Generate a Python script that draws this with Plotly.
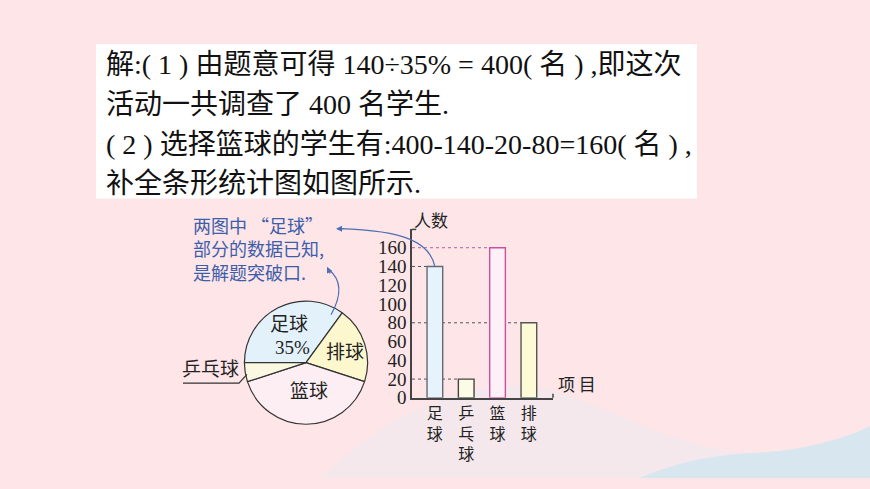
import plotly.graph_objects as go

# 页面尺寸（像素）
W, H = 870, 489

# 扇形统计图数据（顺时针，从9点钟方向开始）
pie_labels = ['足球', '排球', '篮球', '乒乓球']
pie_values = [140, 80, 160, 20]
pie_colors = ['#e3f1fb', '#fcf7cd', '#fdeef3', '#fbf8e2']

# 条形统计图数据
bar_cats = ['足球', '乒乓球', '篮球', '排球']
bar_values = [140, 20, 160, 80]
bar_ticktext = ['足<br>球', '乒<br>乓<br>球', '篮<br>球', '排<br>球']
bar_fill = ['#e6f3fc', '#fbfbe6', '#fdf0f7', '#fdfbd6']
bar_line = ['#666a70', '#444444', '#cc4fa0', '#555555']
y_ticks = [0, 20, 40, 60, 80, 100, 120, 140, 160]

# 解答文字
solution_lines = [
    '解:( 1 ) 由题意可得 140÷35% = 400( 名 ) ,即这次',
    '活动一共调查了 400 名学生.',
    '( 2 ) 选择篮球的学生有:400-140-20-80=160( 名 ) ,',
    '补全条形统计图如图所示.',
]
note_lines = ['两图中 “足球”', '部分的数据已知,', '是解题突破口.']

CJK = 'Noto Sans CJK SC'
SERIF = 'Liberation Serif, Noto Sans CJK SC'


def px(x):
    return x / W


def py(y):
    return 1 - y / H


def path(points):
    # points: 像素坐标 -> paper 坐标
    return ' '.join(f'{c} {px(x):.4f},{py(y):.4f}' for c, x, y in points)


fig = go.Figure()

fig.add_trace(go.Pie(
    labels=pie_labels,
    values=pie_values,
    sort=False,
    direction='clockwise',
    rotation=270,
    textinfo='none',
    hoverinfo='skip',
    showlegend=False,
    marker=dict(colors=pie_colors, line=dict(color='#333333', width=1.2)),
    domain=dict(x=[px(243), px(369)], y=[py(434), py(308)]),
))

fig.add_trace(go.Bar(
    x=bar_cats,
    y=bar_values,
    width=0.5,
    marker=dict(color=bar_fill, line=dict(color=bar_line, width=1.4)),
    hoverinfo='skip',
    showlegend=False,
))

x_lo, x_hi = -0.73, 3.77
shapes = []

# 背景：右下角蓝色波浪
shapes.append(dict(
    type='path', xref='paper', yref='paper', layer='below', line_width=0,
    fillcolor='rgba(225,238,246,0.3)',
    path=path([('M', 320, 489), ('C', 420, 395), ('', 500, 380), ('', 570, 405),
               ('C', 640, 432), ('', 700, 466), ('', 760, 463),
               ('C', 810, 460), ('', 850, 446), ('', 870, 436),
               ('L', 870, 489)]) + ' Z',
))
shapes.append(dict(
    type='path', xref='paper', yref='paper', layer='below', line_width=0,
    fillcolor='rgba(210,230,240,0.85)',
    path=path([('M', 640, 489), ('C', 675, 473), ('', 715, 465), ('', 760, 463),
               ('C', 810, 460), ('', 850, 446), ('', 870, 436),
               ('L', 870, 489)]) + ' Z',
))

# 文字白底
shapes.append(dict(type='rect', xref='paper', yref='paper', layer='below',
                   x0=px(96), x1=px(697), y0=py(203), y1=py(45),
                   fillcolor='white', line_width=0))

# 虚线：从纵轴到各条形
for i, v in enumerate(bar_values):
    shapes.append(dict(type='line', xref='x', yref='y', layer='below',
                       x0=x_lo, x1=i - 0.25, y0=v, y1=v,
                       line=dict(color='#b0609a' if v == max(bar_values) else '#555555',
                                 width=1, dash='dot')))

# 坐标轴端点小刻度
shapes.append(dict(type='line', xref='x domain', yref='y domain',
                   x0=0, x1=0.03, y0=1, y1=1, line=dict(color='#444444', width=1.5)))
shapes.append(dict(type='line', xref='x domain', yref='y domain',
                   x0=1, x1=1, y0=0, y1=0.025, line=dict(color='#444444', width=1.5)))

# 乒乓球引线
shapes.append(dict(type='path', xref='paper', yref='paper',
                   line=dict(color='#333333', width=1.2),
                   path=path([('M', 183, 392), ('L', 239, 392), ('L', 247, 383)])))

# 蓝色弯箭头
blue = '#4f6fb3'
shapes.append(dict(type='path', xref='paper', yref='paper',
                   line=dict(color=blue, width=1.2),
                   path=path([('M', 435, 273), ('C', 430, 248), ('', 405, 236), ('', 340, 234)])))
shapes.append(dict(type='path', xref='paper', yref='paper',
                   line=dict(color=blue, width=1.2),
                   path=path([('M', 331, 322), ('C', 342, 302), ('', 341, 286), ('', 329, 276)])))

annotations = []
for i, t in enumerate(solution_lines):
    annotations.append(dict(x=px(104), y=py(66 + i * 40.7), xref='paper', yref='paper',
                            text=t, showarrow=False, xanchor='left', yanchor='middle',
                            font=dict(family=SERIF, size=28, color='#111111')))

for i, t in enumerate(note_lines):
    annotations.append(dict(x=px(191), y=py(230 + i * 24), xref='paper', yref='paper',
                            text=t, showarrow=False, xanchor='left', yanchor='middle',
                            font=dict(family=CJK, size=18, color='#3d5ea8')))

# 箭头头部
annotations.append(dict(x=px(336), y=py(234), xref='paper', yref='paper', text='',
                        showarrow=True, ax=9, ay=0, arrowhead=2, arrowsize=1,
                        arrowwidth=1.2, arrowcolor=blue))
annotations.append(dict(x=px(327), y=py(273), xref='paper', yref='paper', text='',
                        showarrow=True, ax=4, ay=8, arrowhead=2, arrowsize=1,
                        arrowwidth=1.2, arrowcolor=blue))

# 扇形图标签
pie_text = [('足球', 289, 332), ('35%', 292, 355), ('排球', 345, 361),
            ('篮球', 309, 401), ('乒乓球', 210, 378)]
for t, x, y in pie_text:
    annotations.append(dict(x=px(x), y=py(y), xref='paper', yref='paper', text=t,
                            showarrow=False, xanchor='center', yanchor='middle',
                            font=dict(family=SERIF, size=19, color='#222222')))

annotations.append(dict(x=px(431), y=py(225), xref='paper', yref='paper', text='人数',
                        showarrow=False, font=dict(family=CJK, size=17, color='#222222')))
annotations.append(dict(x=px(577), y=py(407), xref='paper', yref='paper', text='项 目',
                        showarrow=False, font=dict(family=CJK, size=17, color='#222222')))

fig.update_layout(
    width=W, height=H, autosize=False,
    margin=dict(l=0, r=0, t=0, b=0),
    paper_bgcolor='#fde5e8',
    plot_bgcolor='rgba(0,0,0,0)',
    shapes=shapes,
    annotations=annotations,
    xaxis=dict(
        domain=[px(412), px(553)],
        range=[x_lo, x_hi],
        type='category',
        tickvals=bar_cats,
        ticktext=bar_ticktext,
        tickfont=dict(family=CJK, size=16, color='#222222'),
        showline=True, linecolor='#444444', linewidth=1.5,
        showgrid=False, zeroline=False, ticks='',
        fixedrange=True,
    ),
    yaxis=dict(
        domain=[py(407), py(234.7)],
        range=[0, 179.5],
        tickvals=y_ticks,
        tickfont=dict(family='Liberation Serif', size=19, color='#222222'),
        showline=True, linecolor='#444444', linewidth=1.5,
        showgrid=False, zeroline=False, ticks='',
        fixedrange=True,
    ),
)

fig.write_html("out.html", post_script="document.body.style.margin='0';",
               config={'displayModeBar': False})
